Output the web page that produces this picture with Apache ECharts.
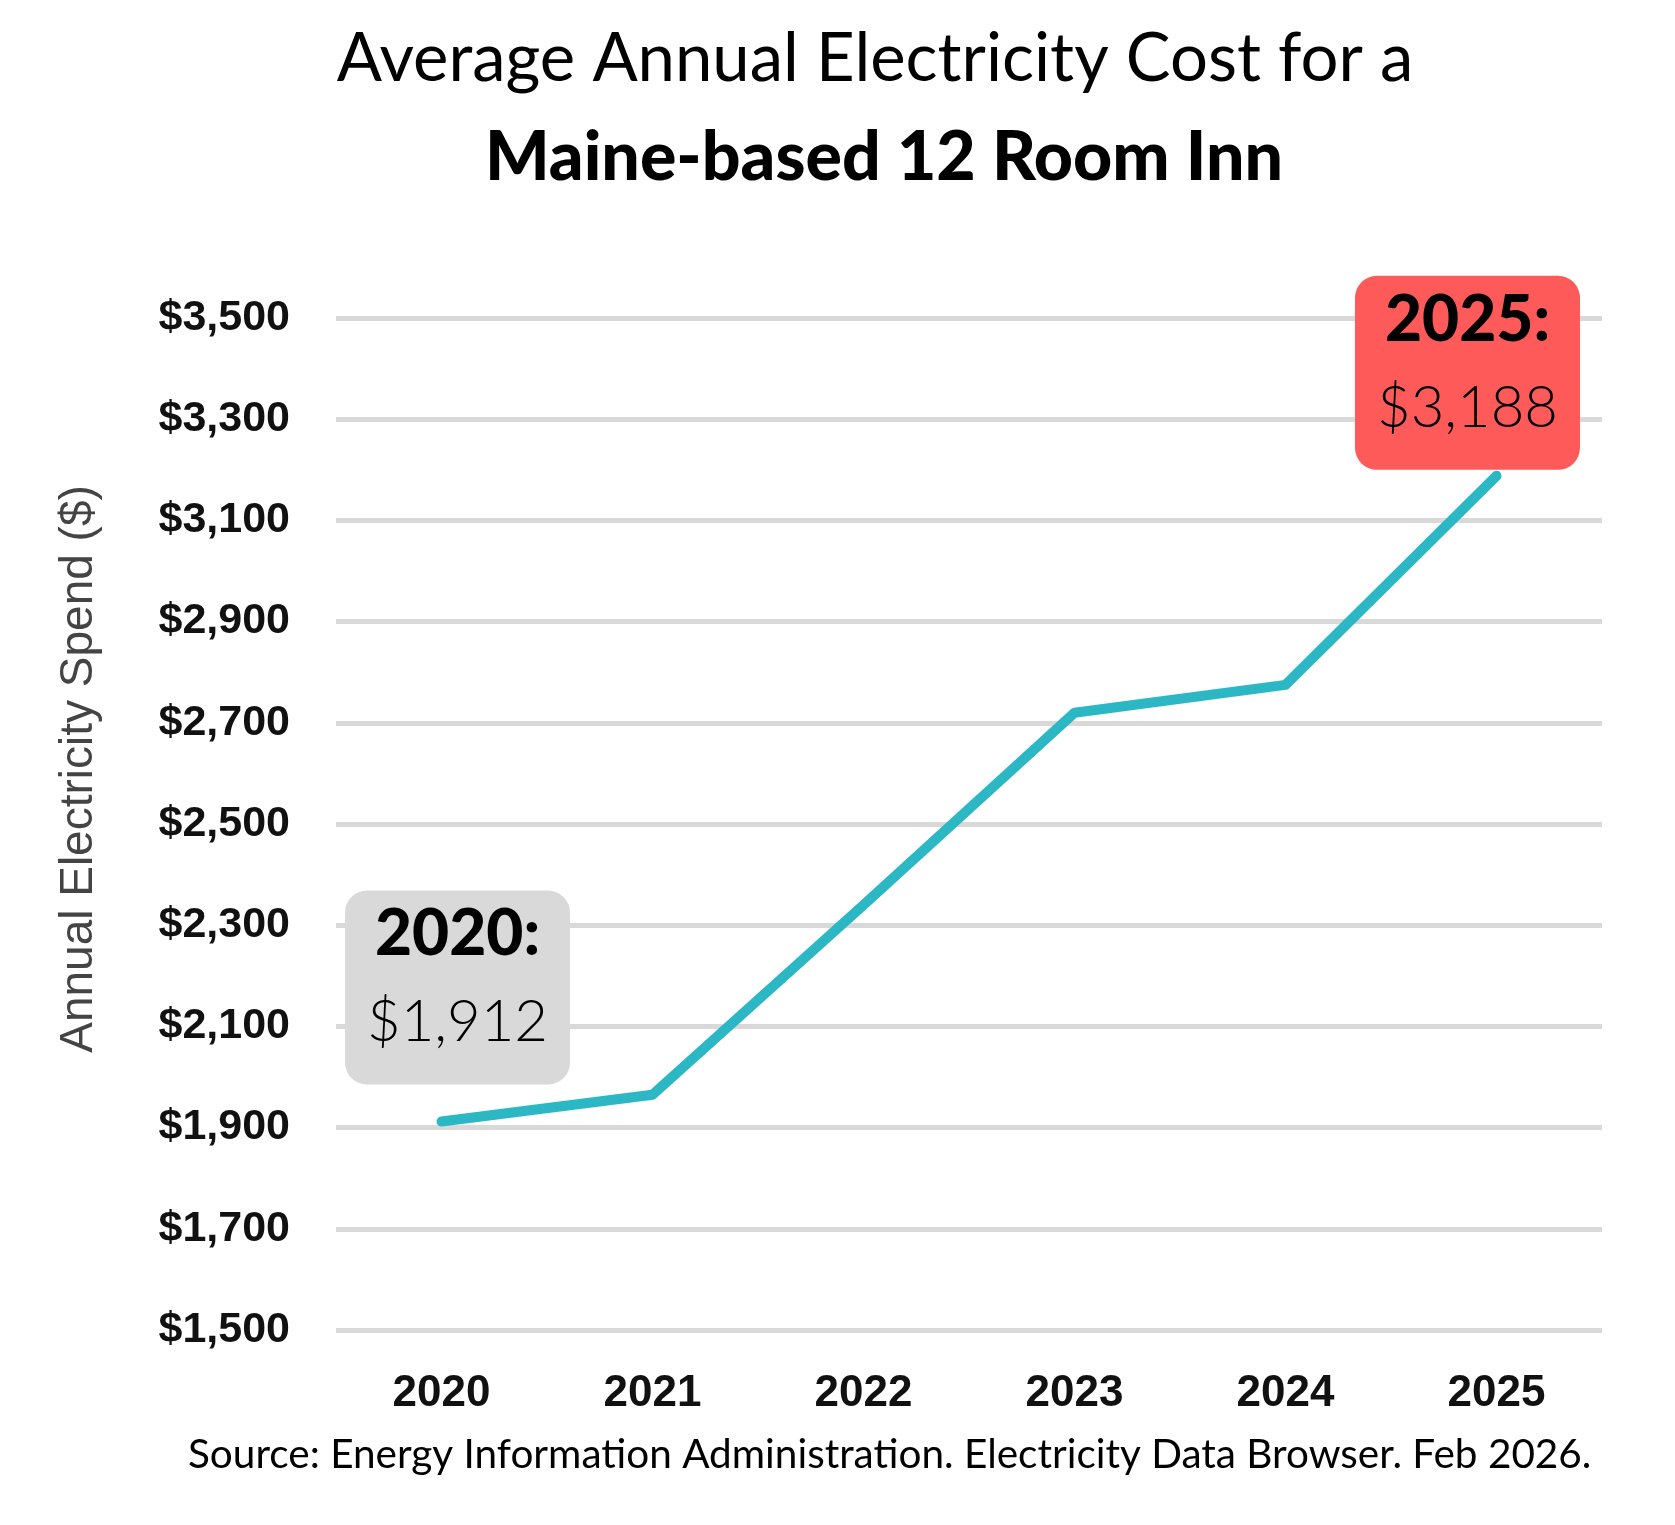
<!DOCTYPE html>
<html>
<head>
<meta charset="utf-8">
<script src="https://cdn.jsdelivr.net/npm/echarts@6/dist/echarts.min.js"></script>
<style>html,body{margin:0;padding:0;background:#fff;}#c{width:1675px;height:1525px;}</style>
</head>
<body>
<div id="c"></div>
<script>
const titleLine1 = 'Average Annual Electricity Cost for a';
const titleLine2 = 'Maine-based 12 Room Inn';
const sourceText = 'Source: Energy Information Administration. Electricity Data Browser. Feb 2026.';
const yAxisName = 'Annual Electricity Spend ($)';
const years = ['2020', '2021', '2022', '2023', '2024', '2025'];
const cost = [1912, 1965, 2340, 2720, 2775, 3188];
const yMin = 1500, yMax = 3500, yStep = 200;

const chart = echarts.init(document.getElementById('c'));
const fmt = v => '$' + v.toLocaleString('en-US');
const firstIdx = 0, lastIdx = years.length - 1;

function noteLabel(idx, bg, offset) {
  return {
    show: true,
    position: 'inside',
    offset: offset,
    backgroundColor: bg,
    borderRadius: 22,
    width: 225,
    height: 194,
    align: 'center',
    verticalAlign: 'middle',
    formatter: '{b|' + years[idx] + ':}\n{v|' + fmt(cost[idx]) + '}',
    rich: {
      b: { fontFamily: 'Lato', fontWeight: 900, fontSize: 64, lineHeight: 88, color: '#000', align: 'center' },
      v: { fontFamily: 'Lato', fontWeight: 300, fontSize: 58, lineHeight: 88, color: '#000', align: 'center' }
    }
  };
}

chart.setOption({
  backgroundColor: '#fff',
  animation: false,
  graphic: [
    { type: 'text', x: 875, y: 26, style: { text: titleLine1, align: 'center', verticalAlign: 'top', fontFamily: 'Lato', fontWeight: 400, fontSize: 67, fill: '#000' } },
    { type: 'text', x: 884, y: 124, style: { text: titleLine2, align: 'center', verticalAlign: 'top', fontFamily: 'Lato', fontWeight: 900, fontSize: 68, fill: '#000' } },
    { type: 'text', x: 188, y: 1434, style: { text: sourceText, align: 'left', verticalAlign: 'top', fontFamily: 'Lato', fontWeight: 400, fontSize: 40.5, fill: '#000' } }
  ],
  grid: { left: 336, right: 73, top: 318, bottom: 195, containLabel: false },
  xAxis: {
    type: 'category',
    data: years,
    boundaryGap: true,
    axisLine: { show: false },
    axisTick: { show: false },
    axisLabel: { margin: 42, fontFamily: 'Liberation Sans', fontWeight: 'bold', fontSize: 44, color: '#111' }
  },
  yAxis: {
    type: 'value',
    min: yMin,
    max: yMax,
    interval: yStep,
    name: yAxisName,
    nameLocation: 'middle',
    nameGap: 234,
    nameTextStyle: { fontFamily: 'Liberation Sans', fontSize: 46, color: '#444', padding: [0, 0, 0, 110] },
    axisLine: { show: false },
    axisTick: { show: false },
    axisLabel: { margin: 46, fontFamily: 'Liberation Sans', fontWeight: 'bold', fontSize: 43, color: '#111', formatter: v => fmt(v) },
    splitLine: { show: true, lineStyle: { color: '#d9d9d9', width: 5 } }
  },
  series: [{
    type: 'line',
    data: cost,
    showSymbol: false,
    symbol: 'none',
    lineStyle: { color: '#2bb8c4', width: 10, cap: 'round', join: 'round' },
    markPoint: {
      symbol: 'circle',
      symbolSize: 0,
      data: [
        { coord: [years[firstIdx], cost[firstIdx]], label: noteLabel(firstIdx, '#d9d9d9', [16, -134]) },
        { coord: [years[lastIdx], cost[lastIdx]], label: noteLabel(lastIdx, '#ff5a5a', [-29, -103]) }
      ]
    }
  }]
});
</script>
</body>
</html>
